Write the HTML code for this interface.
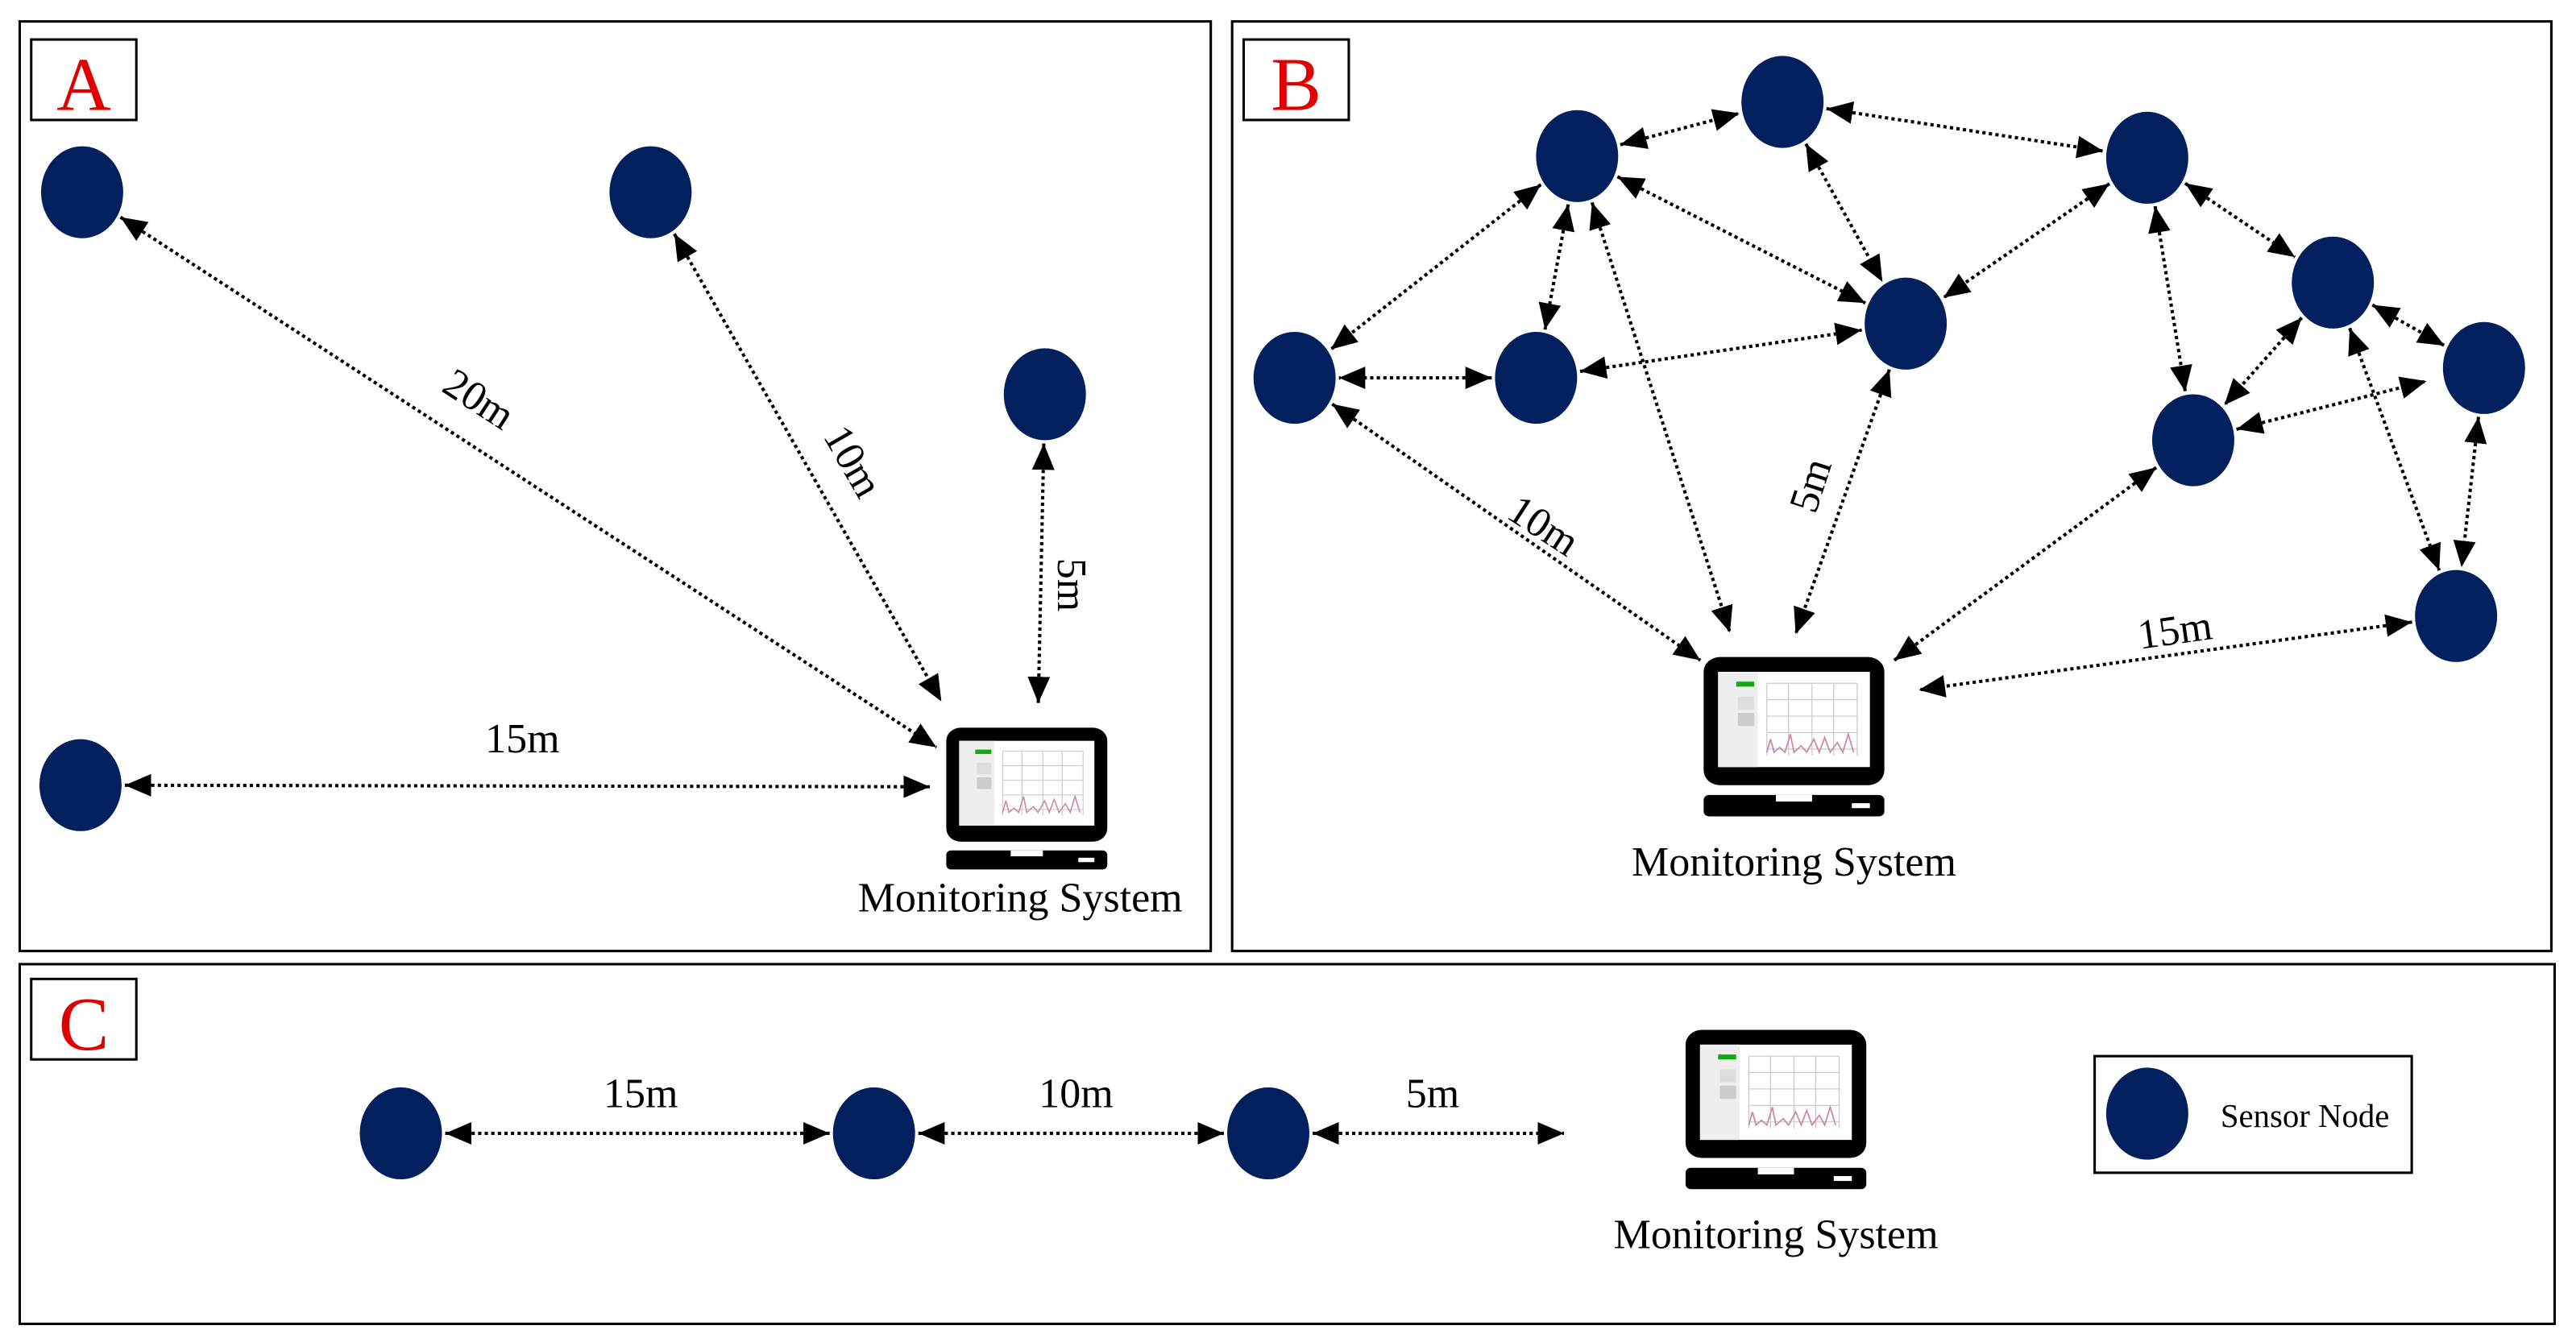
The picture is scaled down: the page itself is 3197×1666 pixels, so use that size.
<!DOCTYPE html>
<html><head><meta charset="utf-8"><style>
html,body{margin:0;padding:0;background:#fff}
svg{display:block}
text{font-family:"Liberation Serif",serif}
</style></head><body>
<svg id="s" width="3197" height="1666" viewBox="0 0 1568 817" xmlns="http://www.w3.org/2000/svg">
<defs>
<marker id="ah" markerUnits="userSpaceOnUse" markerWidth="16" markerHeight="14" refX="14" refY="6" orient="auto-start-reverse" viewBox="0 0 14 12">
<path d="M0,0 L14,6 L0,12 z" fill="#000"/></marker>
<g id="pc">
<rect x="0" y="0" width="100" height="78" rx="9" fill="#000"/>
<rect x="8" y="9" width="84" height="58" fill="#fff"/>
<rect x="8" y="9" width="22" height="58" fill="#eee"/>
<rect x="18" y="15" width="10" height="3" fill="#1a1"/>
<rect x="19" y="24" width="9" height="8" fill="#ddd"/>
<rect x="19" y="34" width="9" height="8" fill="#ccc"/>
<g stroke="#ccc" stroke-width="0.6">
<line x1="35" y1="16" x2="85" y2="16"/><line x1="35" y1="26" x2="85" y2="26"/><line x1="35" y1="36" x2="85" y2="36"/><line x1="35" y1="46" x2="85" y2="46"/><line x1="35" y1="56" x2="85" y2="56"/>
<line x1="35" y1="16" x2="35" y2="60"/><line x1="47" y1="16" x2="47" y2="60"/><line x1="60" y1="16" x2="60" y2="60"/><line x1="72" y1="16" x2="72" y2="60"/><line x1="85" y1="16" x2="85" y2="60"/></g>
<polyline points="35,58 37,50 39,58 42,55 45,58 48,47 50,58 54,54 57,58 61,50 64,58 67,49 70,58 74,52 77,58 80,47 83,58" fill="none" stroke="#c8a" stroke-width="0.8"/>
<rect x="0" y="84" width="100" height="13" rx="3" fill="#000"/>
<rect x="40" y="84" width="20" height="4" fill="#fff"/>
<rect x="82" y="89" width="10" height="3" fill="#fff"/>
</g>
</defs>
<g fill="none" stroke="#000" stroke-width="1.5">
<rect x="12" y="13" width="725" height="566"/>
<rect x="750" y="13" width="803" height="566"/>
<rect x="12" y="587" width="1543" height="219"/>
<rect x="19" y="24" width="64" height="49"/>
<rect x="757" y="24" width="64" height="49"/>
<rect x="19" y="596" width="64" height="49"/>
<rect x="1275" y="643" width="193" height="71"/>
</g>
<g fill="#e00000" font-size="46" text-anchor="middle">
<text x="51" y="67">A</text><text x="789" y="67">B</text><text x="51" y="639">C</text>
</g>
<g id="lines" stroke="#000" stroke-width="2" stroke-dasharray="2 2" fill="none"></g>
<g id="nodes" fill="#03205e"></g>
<use href="#pc" transform="translate(576,443) scale(0.98,0.89)"/>
<use href="#pc" transform="translate(1037,400) scale(1.1,1)"/>
<use href="#pc" transform="translate(1026,627) scale(1.1,1)"/>
<g font-size="25.5" text-anchor="middle" fill="#000">
<text x="621" y="555">Monitoring System</text>
<text x="1092" y="533">Monitoring System</text>
<text x="1081" y="760">Monitoring System</text>
<text x="318" y="458">15m</text>
<text transform="translate(287,250) rotate(33)">20m</text>
<text transform="translate(512,285) rotate(60)">10m</text>
<text transform="translate(644,356) rotate(90)">5m</text>
<text transform="translate(935,327) rotate(33)">10m</text>
<text transform="translate(1110,298) rotate(-72)">5m</text>
<text transform="translate(1325,392) rotate(-8)">15m</text>
<text x="390" y="674">15m</text>
<text x="655" y="674">10m</text>
<text x="872" y="674">5m</text>
<text x="1403" y="686" font-size="20">Sensor Node</text>
</g>
<script>
var N={a1:[50,117],a2:[396,117],a3:[636,240],a4:[49,478],
b1:[960,95],b2:[1085,62],b3:[1307,96],b4:[1420,172],b5:[1512,224],b6:[788,230],b7:[935,230],b8:[1160,197],b9:[1335,268],b10:[1495,375],
c1:[244,690],c2:[532,690],c3:[772,690],l:[1307,678]};
var ng=document.getElementById('nodes'),lg=document.getElementById('lines'),ns='http://www.w3.org/2000/svg';
for(var k in N){var e=document.createElementNS(ns,'ellipse');e.setAttribute('cx',N[k][0]);e.setAttribute('cy',N[k][1]);e.setAttribute('rx',25);e.setAttribute('ry',28);ng.appendChild(e);}
function pt(p,o){if(typeof p=='string'){var c=N[p];var dx=o[0]-c[0],dy=o[1]-c[1];var L=Math.hypot(dx,dy);var ux=dx/L,uy=dy/L;var r=1/Math.sqrt(ux*ux/(27*27)+uy*uy/(30*30));return [c[0]+ux*r,c[1]+uy*r];}return p;}
function C(p){return typeof p=='string'?N[p]:p;}
function E(a,b){var A=pt(a,C(b)),B=pt(b,C(a));var l=document.createElementNS(ns,'line');l.setAttribute('x1',A[0]);l.setAttribute('y1',A[1]);l.setAttribute('x2',B[0]);l.setAttribute('y2',B[1]);l.setAttribute('marker-start','url(#ah)');l.setAttribute('marker-end','url(#ah)');lg.appendChild(l);}
E('a1',[570,455]);E('a2',[573,427]);E('a3',[632,428]);E('a4',[566,479]);
E('b1','b2');E('b2','b3');E('b1','b6');E('b1','b7');E('b1','b8');E('b1',[1053,385]);E('b2','b8');E('b3','b8');E('b3','b9');E('b3','b4');E('b4','b9');E('b4','b5');E('b4','b10');E('b5','b10');E('b9',[1477,232]);E('b7','b6');E('b7','b8');
E('b6',[1035,402]);E('b8',[1093,386]);E('b9',[1153,402]);E('b10',[1168,420]);
E('c1','c2');E('c2','c3');E('c3',[952,690]);
</script>
</svg>
</body></html>
